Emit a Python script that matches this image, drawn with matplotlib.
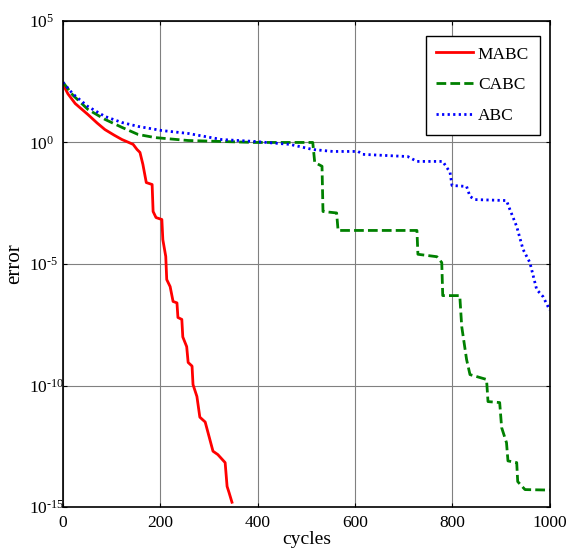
import matplotlib

matplotlib.use("Agg")

import matplotlib.pyplot as plt
import numpy as np
from matplotlib.ticker import FixedLocator, NullLocator

plt.rcParams["font.family"] = ["Liberation Serif", "DejaVu Serif"]
plt.rcParams["mathtext.fontset"] = "custom"
plt.rcParams["mathtext.rm"] = "Liberation Serif"
plt.rcParams["mathtext.it"] = "Liberation Serif:italic"

# convergence curves: cycle number and log10(error)
mabc_cycles = [0, 10, 25, 51, 70, 86, 105, 121, 135, 144, 152, 158, 164, 171, 183, 185,
               191, 203, 205, 211, 213, 220, 226, 234, 236, 244, 246, 254, 257, 265,
               267, 275, 281, 292, 300, 308, 318, 333, 337, 341, 347]
mabc_log = [2.39, 2.0, 1.6, 1.15, 0.8, 0.53, 0.3, 0.12, 0.0, -0.08, -0.29, -0.41, -0.9,
            -1.65, -1.73, -2.84, -3.09, -3.17, -4.0, -4.69, -5.64, -5.93, -6.54, -6.6,
            -7.2, -7.28, -8.0, -8.4, -9.05, -9.2, -9.96, -10.45, -11.3, -11.5, -12.1,
            -12.7, -12.84, -13.17, -14.15, -14.4, -14.8]

cabc_cycles = [0, 20, 51, 86, 121, 154, 189, 257, 394, 466, 513, 517, 532, 534, 562,
               565, 727, 729, 768, 778, 780, 815, 819, 829, 836, 870, 873, 897, 901,
               911, 914, 932, 934, 949, 1000]
cabc_log = [2.47, 1.95, 1.36, 0.95, 0.62, 0.33, 0.2, 0.08, 0.0, 0.0, 0.0, -0.82, -0.98,
            -2.84, -2.9, -3.62, -3.62, -4.6, -4.7, -4.94, -6.3, -6.3, -7.57, -8.93,
            -9.55, -9.75, -10.66, -10.7, -11.73, -12.35, -13.1, -13.17, -13.95, -14.28,
            -14.3]

abc_cycles = [0, 20, 51, 86, 121, 154, 203, 257, 326, 394, 466, 513, 554, 606, 616,
              708, 727, 780, 795, 799, 829, 836, 846, 911, 918, 932, 945, 959, 973,
              986, 1000]
abc_log = [2.47, 2.0, 1.48, 1.07, 0.82, 0.66, 0.49, 0.37, 0.12, 0.04, -0.08, -0.29,
           -0.37, -0.37, -0.49, -0.58, -0.78, -0.78, -1.23, -1.77, -1.81, -2.22, -2.35,
           -2.39, -2.76, -3.46, -4.4, -4.94, -6.05, -6.34, -6.9]

y_exponents = [-15, -10, -5, 0, 5]
x_ticks = [0, 200, 400, 600, 800, 1000]

fig = plt.figure(figsize=(5.68, 5.5), dpi=100)
ax = fig.add_axes([0.111, 0.078, 0.857, 0.884])

ax.plot(mabc_cycles, 10.0 ** np.array(mabc_log), color="#ff0000", lw=2.0, label="MABC")
ax.plot(cabc_cycles, 10.0 ** np.array(cabc_log), color="#008000", lw=2.0,
        ls=(0, (3.5, 1.5)), label="CABC")
ax.plot(abc_cycles, 10.0 ** np.array(abc_log), color="#0000ff", lw=2.0,
        ls=(0, (0.8, 1.2)), label="ABC")

ax.set_yscale("log")
ax.set_xlim(0, 1000)
ax.set_ylim(1e-15, 1e5)
ax.yaxis.set_major_locator(FixedLocator([10.0 ** e for e in y_exponents]))
ax.yaxis.set_minor_locator(NullLocator())
# plain hyphen in the exponent, labels left-aligned like the old MATLAB export
ax.set_yticklabels([rf"$10^{{\text{{{e}}}}}$" for e in y_exponents])
ax.set_xticks(x_ticks)
ax.set_xticklabels([str(t) for t in x_ticks])

ax.grid(True, color="#808080", lw=0.8)
ax.tick_params(direction="in", length=3, top=True, right=True, labelsize=12.5)
ax.tick_params(axis="y", pad=24.5)
ax.tick_params(axis="x", pad=5.5)
for lbl in ax.get_yticklabels():
    lbl.set_horizontalalignment("left")
for side in ax.spines.values():
    side.set_linewidth(1.2)

ax.set_xlabel("cycles", fontsize=14, labelpad=0)
ax.set_ylabel("error", fontsize=15)
ax.yaxis.set_label_coords(-0.08, 0.5)

leg = ax.legend(loc="upper right", fontsize=12.5, fancybox=False, framealpha=1,
                edgecolor="black", handlelength=2.1, handletextpad=0.3,
                labelspacing=0.85, borderpad=0.6, borderaxespad=0,
                bbox_to_anchor=(0.979, 0.969))
leg.get_frame().set_linewidth(1.0)

fig.savefig("out.png", dpi=100)
